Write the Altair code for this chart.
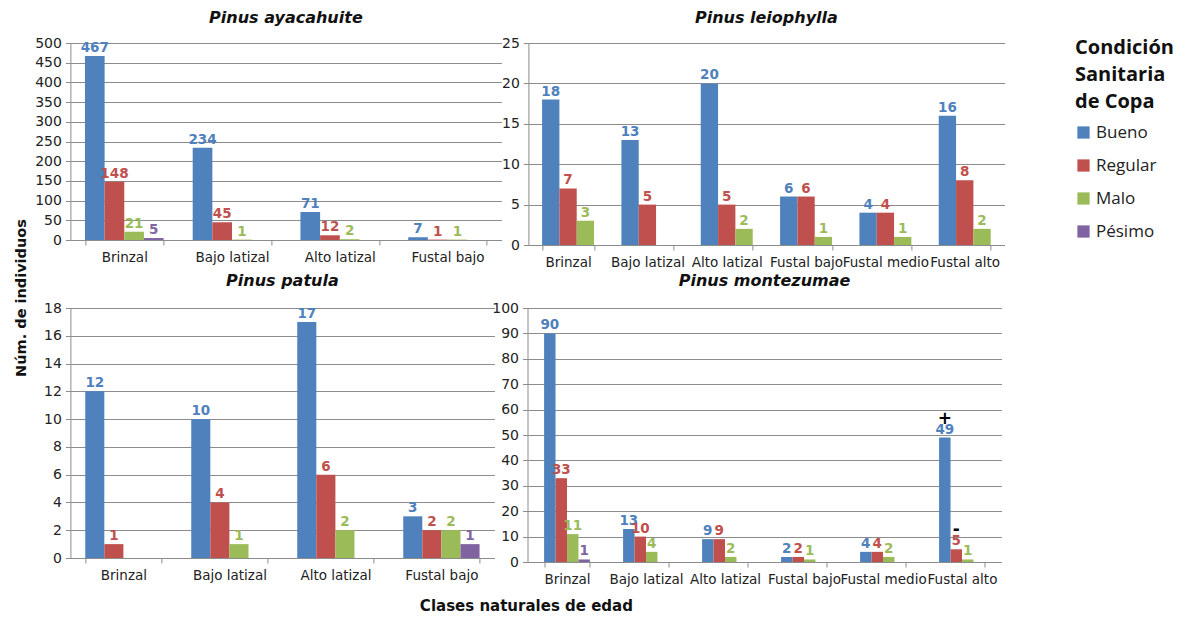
import altair as alt
import pandas as pd

series = ["Bueno", "Regular", "Malo", "Pésimo"]
colors = ["#4F81BD", "#C0504D", "#9BBB59", "#8064A2"]

# Pinus ayacahuite
ay_classes = ["Brinzal", "Bajo latizal", "Alto latizal", "Fustal bajo"]
ay_bueno = [467, 234, 71, 7]
ay_regular = [148, 45, 12, 1]
ay_malo = [21, 1, 2, 1]
ay_pesimo = [5, None, None, None]

# Pinus leiophylla
le_classes = ["Brinzal", "Bajo latizal", "Alto latizal", "Fustal bajo", "Fustal medio", "Fustal alto"]
le_bueno = [18, 13, 20, 6, 4, 16]
le_regular = [7, 5, 5, 6, 4, 8]
le_malo = [3, None, 2, 1, 1, 2]

# Pinus patula
pa_classes = ["Brinzal", "Bajo latizal", "Alto latizal", "Fustal bajo"]
pa_bueno = [12, 10, 17, 3]
pa_regular = [1, 4, 6, 2]
pa_malo = [None, 1, 2, 2]
pa_pesimo = [None, None, None, 1]

# Pinus montezumae
mo_classes = ["Brinzal", "Bajo latizal", "Alto latizal", "Fustal bajo", "Fustal medio", "Fustal alto"]
mo_bueno = [90, 13, 9, 2, 4, 49]
mo_regular = [33, 10, 9, 2, 4, 5]
mo_malo = [11, 4, 2, 1, 2, 1]
mo_pesimo = [1, None, None, None, None, None]

# annotations (+ / -) on Pinus montezumae, Fustal alto
ann_clase = ["Fustal alto", "Fustal alto"]
ann_serie = ["Bueno", "Regular"]
ann_valor = [49, 5]
ann_sym = ["+", "-"]

y_title = "Núm. de individuos"
x_title = "Clases naturales de edad"
legend_title = ["Condición", "Sanitaria", "de Copa"]

FONT = "DejaVu Sans"
GRID = "#8c8c8c"


def make_df(classes, cols, names):
    rows = []
    for name, vals in zip(names, cols):
        for c, v in zip(classes, vals):
            if v is not None:
                rows.append({"clase": c, "serie": name, "valor": v})
    return pd.DataFrame(rows)


def panel(title, classes, cols, names, ymax, ystep, w, h, pad, toff, ann=None):
    df = make_df(classes, cols, names)
    x = alt.X("clase:N", sort=classes,
              scale=alt.Scale(domain=classes, paddingInner=pad, paddingOuter=pad / 2),
              axis=alt.Axis(title=None, labelAngle=0, tickBand="extent", ticks=True,
                            tickSize=5, tickColor=GRID, domainColor=GRID,
                            labelPadding=5, labelFont=FONT, labelFontSize=13.5,
                            labelColor="#222222", grid=False))
    xo = alt.XOffset("serie:N", sort=names,
                     scale=alt.Scale(domain=names, paddingInner=0, paddingOuter=0))
    y = alt.Y("valor:Q", scale=alt.Scale(domain=[0, ymax], nice=False, zero=True),
              axis=alt.Axis(title=None, values=list(range(0, ymax + 1, ystep)),
                            grid=True, gridColor=GRID, gridWidth=1.2,
                            tickSize=5, tickColor=GRID, domainColor=GRID,
                            labelPadding=4, labelFont=FONT, labelFontSize=14,
                            labelColor="#222222"))
    color = alt.Color("serie:N", scale=alt.Scale(domain=series, range=colors),
                      legend=alt.Legend(title=legend_title, orient="none",
                                        legendX=1060, legendY=-5,
                                        titleFont="Open Sans", titleFontSize=20,
                                        titleFontWeight="bold", titleLineHeight=27,
                                        titleColor="#111111", titlePadding=12,
                                        labelFont="Open Sans", labelFontSize=17,
                                        labelColor="#222222", symbolType="square",
                                        symbolSize=150, symbolStrokeWidth=0,
                                        rowPadding=15, labelOffset=4))
    bars = alt.Chart(df).mark_bar().encode(x=x, xOffset=xo, y=y, color=color)
    labels = alt.Chart(df).mark_text(font=FONT, fontSize=13.5, fontWeight="bold",
                                     baseline="middle", dy=-8).encode(
        x=x, xOffset=xo, y=y, text="valor:Q",
        color=alt.Color("serie:N", scale=alt.Scale(domain=series, range=colors), legend=None))
    layers = [bars, labels]
    if ann is not None:
        layers.append(alt.Chart(ann).mark_text(font=FONT, fontSize=17, fontWeight="bold",
                                               baseline="middle", dy=-19, color="black").encode(
            x=x, xOffset=xo, y=y, text="sym:N"))
    return alt.layer(*layers).properties(
        width=w, height=h,
        title=alt.TitleParams(title, font=FONT, fontSize=16, fontStyle="italic",
                              fontWeight="bold", color="#111111", offset=toff))


ann_df = pd.DataFrame({"clase": ann_clase, "serie": ann_serie, "valor": ann_valor, "sym": ann_sym})

p1 = panel("Pinus ayacahuite", ay_classes, [ay_bueno, ay_regular, ay_malo, ay_pesimo],
           series, 500, 50, 431, 197, 0.27, 10)
p2 = panel("Pinus leiophylla", le_classes, [le_bueno, le_regular, le_malo],
           series[:3], 25, 5, 476, 202, 0.345, 10)
p3 = panel("Pinus patula", pa_classes, [pa_bueno, pa_regular, pa_malo, pa_pesimo],
           series, 18, 2, 424, 250, 0.28, 12)
p4 = panel("Pinus montezumae", mo_classes, [mo_bueno, mo_regular, mo_malo, mo_pesimo],
           series, 100, 10, 474, 254, 0.42, 12, ann=ann_df)

row1 = alt.hconcat(p1, p2, spacing=0).resolve_scale(x="independent", y="independent",
                                                     xOffset="independent")
row2 = alt.hconcat(p3, p4, spacing=-2.9).resolve_scale(x="independent", y="independent",
                                                        xOffset="independent")

xt = alt.Chart(pd.DataFrame({"t": [x_title]})).mark_text(
    font=FONT, fontSize=15, fontWeight="bold", color="#111111", baseline="middle").encode(
    text="t:N", x=alt.value(456), y=alt.value(16)).properties(width=900, height=24)

main = alt.vconcat(row1, row2, xt, spacing=4).resolve_scale(
    x="independent", y="independent", xOffset="independent")

yt = alt.Chart(pd.DataFrame({"t": [y_title]})).mark_text(
    font=FONT, fontSize=14.5, fontWeight="bold", color="#111111", angle=270,
    baseline="middle").encode(
    text="t:N", x=alt.value(7), y=alt.value(255)).properties(width=14, height=520)

chart = alt.hconcat(yt, main, spacing=5.4).resolve_scale(
    x="independent", y="independent", xOffset="independent").properties(
    padding={"left": 5, "top": 2, "right": 5, "bottom": 0}, background="white"
).configure_view(strokeWidth=0, stroke="transparent")

chart.save("out.html", embed_options={"renderer": "svg", "actions": False})
